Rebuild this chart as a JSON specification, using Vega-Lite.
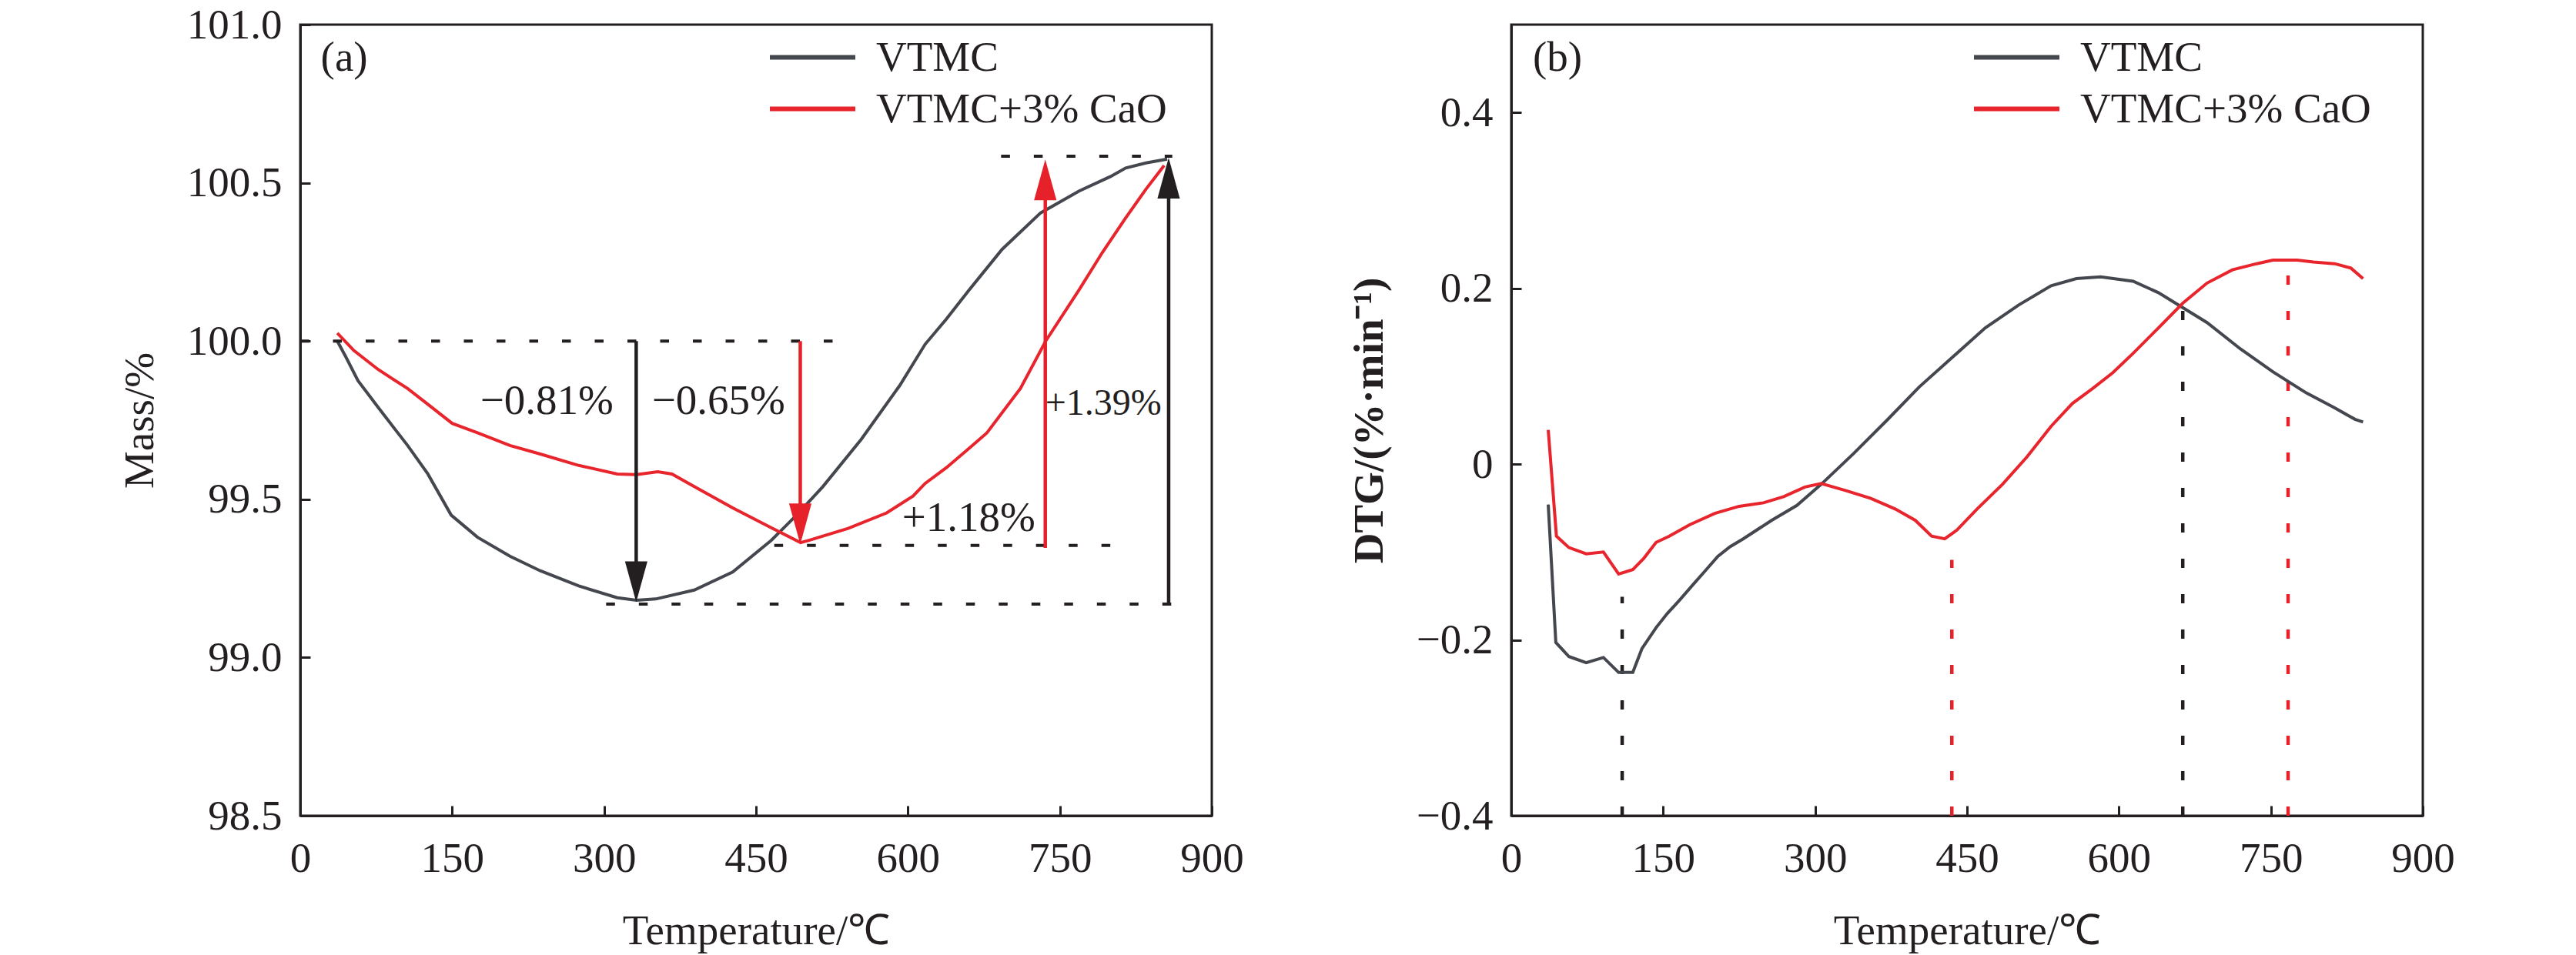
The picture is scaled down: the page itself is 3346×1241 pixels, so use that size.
{
  "$schema": "https://vega.github.io/schema/vega-lite/v6.json",
  "background": "white",
  "padding": {"left": 152, "top": 3, "right": 5, "bottom": 5},
  "datasets": {
    "tg": [
      {"x": 36.6, "y": 100.0, "s": "VTMC"},
      {"x": 45, "y": 99.95, "s": "VTMC"},
      {"x": 57, "y": 99.875, "s": "VTMC"},
      {"x": 77, "y": 99.79, "s": "VTMC"},
      {"x": 106, "y": 99.67, "s": "VTMC"},
      {"x": 126, "y": 99.58, "s": "VTMC"},
      {"x": 149, "y": 99.45, "s": "VTMC"},
      {"x": 175, "y": 99.38, "s": "VTMC"},
      {"x": 207, "y": 99.32, "s": "VTMC"},
      {"x": 237, "y": 99.274, "s": "VTMC"},
      {"x": 275, "y": 99.226, "s": "VTMC"},
      {"x": 313, "y": 99.189, "s": "VTMC"},
      {"x": 332, "y": 99.181, "s": "VTMC"},
      {"x": 351, "y": 99.185, "s": "VTMC"},
      {"x": 389, "y": 99.213, "s": "VTMC"},
      {"x": 427, "y": 99.27, "s": "VTMC"},
      {"x": 465, "y": 99.37, "s": "VTMC"},
      {"x": 490, "y": 99.45, "s": "VTMC"},
      {"x": 516, "y": 99.54, "s": "VTMC"},
      {"x": 554, "y": 99.69, "s": "VTMC"},
      {"x": 592, "y": 99.86, "s": "VTMC"},
      {"x": 617, "y": 99.99, "s": "VTMC"},
      {"x": 638, "y": 100.07, "s": "VTMC"},
      {"x": 660, "y": 100.16, "s": "VTMC"},
      {"x": 693, "y": 100.29, "s": "VTMC"},
      {"x": 731, "y": 100.405, "s": "VTMC"},
      {"x": 769, "y": 100.474, "s": "VTMC"},
      {"x": 800, "y": 100.52, "s": "VTMC"},
      {"x": 815, "y": 100.547, "s": "VTMC"},
      {"x": 835, "y": 100.563, "s": "VTMC"},
      {"x": 856, "y": 100.575, "s": "VTMC"},
      {"x": 36.6, "y": 100.025, "s": "VTMC+3% CaO"},
      {"x": 53, "y": 99.97, "s": "VTMC+3% CaO"},
      {"x": 77, "y": 99.91, "s": "VTMC+3% CaO"},
      {"x": 106, "y": 99.85, "s": "VTMC+3% CaO"},
      {"x": 126, "y": 99.8, "s": "VTMC+3% CaO"},
      {"x": 150, "y": 99.74, "s": "VTMC+3% CaO"},
      {"x": 175, "y": 99.71, "s": "VTMC+3% CaO"},
      {"x": 207, "y": 99.67, "s": "VTMC+3% CaO"},
      {"x": 237, "y": 99.643, "s": "VTMC+3% CaO"},
      {"x": 275, "y": 99.607, "s": "VTMC+3% CaO"},
      {"x": 313, "y": 99.58, "s": "VTMC+3% CaO"},
      {"x": 332, "y": 99.578, "s": "VTMC+3% CaO"},
      {"x": 353, "y": 99.587, "s": "VTMC+3% CaO"},
      {"x": 367, "y": 99.58, "s": "VTMC+3% CaO"},
      {"x": 389, "y": 99.54, "s": "VTMC+3% CaO"},
      {"x": 427, "y": 99.473, "s": "VTMC+3% CaO"},
      {"x": 465, "y": 99.41, "s": "VTMC+3% CaO"},
      {"x": 494, "y": 99.363, "s": "VTMC+3% CaO"},
      {"x": 503, "y": 99.371, "s": "VTMC+3% CaO"},
      {"x": 541, "y": 99.408, "s": "VTMC+3% CaO"},
      {"x": 579, "y": 99.457, "s": "VTMC+3% CaO"},
      {"x": 605, "y": 99.51, "s": "VTMC+3% CaO"},
      {"x": 617, "y": 99.55, "s": "VTMC+3% CaO"},
      {"x": 638, "y": 99.6, "s": "VTMC+3% CaO"},
      {"x": 660, "y": 99.66, "s": "VTMC+3% CaO"},
      {"x": 678, "y": 99.71, "s": "VTMC+3% CaO"},
      {"x": 711, "y": 99.85, "s": "VTMC+3% CaO"},
      {"x": 736, "y": 100.0, "s": "VTMC+3% CaO"},
      {"x": 769, "y": 100.162, "s": "VTMC+3% CaO"},
      {"x": 792, "y": 100.28, "s": "VTMC+3% CaO"},
      {"x": 815, "y": 100.389, "s": "VTMC+3% CaO"},
      {"x": 835, "y": 100.48, "s": "VTMC+3% CaO"},
      {"x": 853, "y": 100.555, "s": "VTMC+3% CaO"}
    ],
    "dtg": [
      {"x": 36.5, "y": -0.046, "s": "VTMC"},
      {"x": 44, "y": -0.203, "s": "VTMC"},
      {"x": 57, "y": -0.219, "s": "VTMC"},
      {"x": 74, "y": -0.226, "s": "VTMC"},
      {"x": 91, "y": -0.22, "s": "VTMC"},
      {"x": 106, "y": -0.237, "s": "VTMC"},
      {"x": 120, "y": -0.237, "s": "VTMC"},
      {"x": 129, "y": -0.21, "s": "VTMC"},
      {"x": 143, "y": -0.186, "s": "VTMC"},
      {"x": 154, "y": -0.17, "s": "VTMC"},
      {"x": 166, "y": -0.155, "s": "VTMC"},
      {"x": 178, "y": -0.139, "s": "VTMC"},
      {"x": 191, "y": -0.122, "s": "VTMC"},
      {"x": 204, "y": -0.105, "s": "VTMC"},
      {"x": 216, "y": -0.094, "s": "VTMC"},
      {"x": 229, "y": -0.085, "s": "VTMC"},
      {"x": 257, "y": -0.064, "s": "VTMC"},
      {"x": 282, "y": -0.047, "s": "VTMC"},
      {"x": 306, "y": -0.023, "s": "VTMC"},
      {"x": 338, "y": 0.012, "s": "VTMC"},
      {"x": 371, "y": 0.05, "s": "VTMC"},
      {"x": 403, "y": 0.088, "s": "VTMC"},
      {"x": 436, "y": 0.122, "s": "VTMC"},
      {"x": 468, "y": 0.155, "s": "VTMC"},
      {"x": 501, "y": 0.181, "s": "VTMC"},
      {"x": 533, "y": 0.203, "s": "VTMC"},
      {"x": 558, "y": 0.211, "s": "VTMC"},
      {"x": 582, "y": 0.213, "s": "VTMC"},
      {"x": 614, "y": 0.208, "s": "VTMC"},
      {"x": 639, "y": 0.195, "s": "VTMC"},
      {"x": 663, "y": 0.178, "s": "VTMC"},
      {"x": 687, "y": 0.161, "s": "VTMC"},
      {"x": 720, "y": 0.131, "s": "VTMC"},
      {"x": 752, "y": 0.105, "s": "VTMC"},
      {"x": 785, "y": 0.081, "s": "VTMC"},
      {"x": 813, "y": 0.064, "s": "VTMC"},
      {"x": 833, "y": 0.051, "s": "VTMC"},
      {"x": 841, "y": 0.048, "s": "VTMC"},
      {"x": 36.5, "y": 0.039, "s": "VTMC+3% CaO"},
      {"x": 44.6, "y": -0.082, "s": "VTMC+3% CaO"},
      {"x": 57, "y": -0.095, "s": "VTMC+3% CaO"},
      {"x": 74, "y": -0.102, "s": "VTMC+3% CaO"},
      {"x": 91, "y": -0.1, "s": "VTMC+3% CaO"},
      {"x": 106, "y": -0.125, "s": "VTMC+3% CaO"},
      {"x": 120, "y": -0.12, "s": "VTMC+3% CaO"},
      {"x": 131, "y": -0.107, "s": "VTMC+3% CaO"},
      {"x": 143, "y": -0.089, "s": "VTMC+3% CaO"},
      {"x": 156, "y": -0.082, "s": "VTMC+3% CaO"},
      {"x": 176, "y": -0.069, "s": "VTMC+3% CaO"},
      {"x": 201, "y": -0.056, "s": "VTMC+3% CaO"},
      {"x": 225, "y": -0.048, "s": "VTMC+3% CaO"},
      {"x": 249, "y": -0.044, "s": "VTMC+3% CaO"},
      {"x": 269, "y": -0.037, "s": "VTMC+3% CaO"},
      {"x": 290, "y": -0.026, "s": "VTMC+3% CaO"},
      {"x": 306, "y": -0.022, "s": "VTMC+3% CaO"},
      {"x": 330, "y": -0.03, "s": "VTMC+3% CaO"},
      {"x": 355, "y": -0.039, "s": "VTMC+3% CaO"},
      {"x": 379, "y": -0.051, "s": "VTMC+3% CaO"},
      {"x": 399, "y": -0.064, "s": "VTMC+3% CaO"},
      {"x": 415, "y": -0.082, "s": "VTMC+3% CaO"},
      {"x": 428, "y": -0.085, "s": "VTMC+3% CaO"},
      {"x": 440, "y": -0.075, "s": "VTMC+3% CaO"},
      {"x": 460, "y": -0.051, "s": "VTMC+3% CaO"},
      {"x": 485, "y": -0.023, "s": "VTMC+3% CaO"},
      {"x": 509, "y": 0.008, "s": "VTMC+3% CaO"},
      {"x": 533, "y": 0.043, "s": "VTMC+3% CaO"},
      {"x": 554, "y": 0.069, "s": "VTMC+3% CaO"},
      {"x": 574, "y": 0.086, "s": "VTMC+3% CaO"},
      {"x": 594, "y": 0.104, "s": "VTMC+3% CaO"},
      {"x": 614, "y": 0.126, "s": "VTMC+3% CaO"},
      {"x": 639, "y": 0.155, "s": "VTMC+3% CaO"},
      {"x": 663, "y": 0.183, "s": "VTMC+3% CaO"},
      {"x": 687, "y": 0.206, "s": "VTMC+3% CaO"},
      {"x": 712, "y": 0.221, "s": "VTMC+3% CaO"},
      {"x": 736, "y": 0.228, "s": "VTMC+3% CaO"},
      {"x": 752, "y": 0.232, "s": "VTMC+3% CaO"},
      {"x": 776, "y": 0.232, "s": "VTMC+3% CaO"},
      {"x": 792, "y": 0.23, "s": "VTMC+3% CaO"},
      {"x": 813, "y": 0.228, "s": "VTMC+3% CaO"},
      {"x": 829, "y": 0.223, "s": "VTMC+3% CaO"},
      {"x": 841, "y": 0.211, "s": "VTMC+3% CaO"}
    ],
    "levelsA": [
      {"x": 0, "x2": 542, "y": 100.0},
      {"x": 302, "x2": 860, "y": 99.169},
      {"x": 468, "x2": 800, "y": 99.354},
      {"x": 692, "x2": 861, "y": 100.584}
    ],
    "shaftsA": [
      {"x": 331.7, "y": 100.0, "y2": 99.2, "s": "VTMC"},
      {"x": 493.7, "y": 100.0, "y2": 99.38, "s": "VTMC+3% CaO"},
      {"x": 735.6, "y": 99.346, "y2": 100.55, "s": "VTMC+3% CaO"},
      {"x": 857.4, "y": 99.169, "y2": 100.55, "s": "VTMC"}
    ],
    "headsA": [
      {"x": 331.7, "y": 99.175, "dir": "down", "s": "VTMC"},
      {"x": 493.7, "y": 99.358, "dir": "down", "s": "VTMC+3% CaO"},
      {"x": 735.6, "y": 100.574, "dir": "up", "s": "VTMC+3% CaO"},
      {"x": 857.4, "y": 100.579, "dir": "up", "s": "VTMC"}
    ],
    "labelsA": [
      {"x": 43.4, "y": 100.895, "t": "(a)"},
      {"x": 243.5, "y": 99.81, "t": "−0.81%"},
      {"x": 413, "y": 99.81, "t": "−0.65%"},
      {"x": 660, "y": 99.44, "t": "+1.18%"}
    ],
    "labelsA2": [
      {"x": 793, "y": 99.8, "t": "+1.39%"}
    ],
    "peaksB": [
      {"x": 109.5, "y": -0.4, "y2": -0.151, "s": "VTMC"},
      {"x": 435, "y": -0.4, "y2": -0.109, "s": "VTMC+3% CaO"},
      {"x": 663, "y": -0.4, "y2": 0.182, "s": "VTMC"},
      {"x": 767, "y": -0.4, "y2": 0.22, "s": "VTMC+3% CaO"}
    ],
    "labelsB": [
      {"x": 45.6, "y": 0.462, "t": "(b)"}
    ]
  },
  "hconcat": [
    {
      "width": 1184,
      "height": 1028,
      "encoding": {
        "x": {"field": "x", "type": "quantitative", "title": "Temperature/℃",
              "scale": {"domain": [0, 900], "nice": false, "zero": false},
              "axis": {"values": [0, 150, 300, 450, 600, 750, 900]}},
        "y": {"field": "y", "type": "quantitative", "title": "Mass/%",
              "scale": {"domain": [98.5, 101], "nice": false, "zero": false},
              "axis": {"values": [98.5, 99, 99.5, 100, 100.5, 101], "format": ".1f"}}
      },
      "layer": [
        {
          "data": {"name": "tg"},
          "mark": {"type": "line", "strokeWidth": 4},
          "encoding": {
            "color": {"field": "s", "type": "nominal",
                      "scale": {"domain": ["VTMC", "VTMC+3% CaO"], "range": ["#45474f", "#e8242c"]},
                      "legend": {"title": null, "orient": "none", "legendX": 601, "legendY": 15,
                                 "symbolType": "M-1,0H5", "symbolSize": 1369, "symbolStrokeWidth": 6,
                                 "labelOffset": 92, "rowPadding": 11, "padding": 0,
                                 "labelFont": "Liberation Serif", "labelFontSize": 55,
                                 "labelColor": "#231f20", "labelLimit": 0}}
          }
        },
        {
          "data": {"name": "levelsA"},
          "mark": {"type": "rule", "strokeDash": [11.5, 31], "strokeWidth": 4, "color": "#231f20"},
          "encoding": {
            "x2": {"field": "x2"}
          }
        },
        {
          "data": {"name": "shaftsA"},
          "mark": {"type": "rule", "strokeWidth": 4.5},
          "encoding": {
            "y2": {"field": "y2"},
            "stroke": {"field": "s", "type": "nominal",
                       "scale": {"domain": ["VTMC", "VTMC+3% CaO"], "range": ["#231f20", "#e6212a"]},
                       "legend": null}
          }
        },
        {
          "data": {"name": "headsA"},
          "mark": {"type": "point", "filled": true, "opacity": 1, "size": 2809, "strokeWidth": 0},
          "encoding": {
            "fill": {"field": "s", "type": "nominal",
                     "scale": {"domain": ["VTMC", "VTMC+3% CaO"], "range": ["#231f20", "#e6212a"]},
                     "legend": null},
            "shape": {"field": "dir", "type": "nominal",
                      "scale": {"domain": ["down", "up"], "range": ["M-0.55,-2L0.55,-2L0,0Z", "M-0.55,2L0.55,2L0,0Z"]},
                      "legend": null}
          }
        },
        {
          "data": {"name": "labelsA"},
          "mark": {"type": "text", "font": "Liberation Serif", "fontSize": 55, "color": "#231f20", "align": "center", "baseline": "middle"},
          "encoding": {
            "text": {"field": "t"}
          }
        },
        {
          "data": {"name": "labelsA2"},
          "mark": {"type": "text", "font": "Liberation Serif", "fontSize": 48, "color": "#231f20", "align": "center", "baseline": "middle"},
          "encoding": {
            "text": {"field": "t"}
          }
        }
      ]
    },
    {
      "width": 1184,
      "height": 1028,
      "encoding": {
        "x": {"field": "x", "type": "quantitative", "title": "Temperature/℃",
              "scale": {"domain": [0, 900], "nice": false, "zero": false},
              "axis": {"values": [0, 150, 300, 450, 600, 750, 900]}},
        "y": {"field": "y", "type": "quantitative", "title": "DTG/(%·min⁻¹)",
              "scale": {"domain": [-0.4, 0.5], "nice": false, "zero": false},
              "axis": {"values": [-0.4, -0.2, 0, 0.2, 0.4], "format": ".1~f", "titleFontWeight": "bold"}}
      },
      "layer": [
        {
          "data": {"name": "peaksB"},
          "mark": {"type": "rule", "strokeDash": [12, 34], "strokeWidth": 4.5},
          "encoding": {
            "y2": {"field": "y2"},
            "stroke": {"field": "s", "type": "nominal",
                       "scale": {"domain": ["VTMC", "VTMC+3% CaO"], "range": ["#231f20", "#e6212a"]},
                       "legend": null}
          }
        },
        {
          "data": {"name": "dtg"},
          "mark": {"type": "line", "strokeWidth": 4},
          "encoding": {
            "color": {"field": "s", "type": "nominal",
                      "scale": {"domain": ["VTMC", "VTMC+3% CaO"], "range": ["#45474f", "#e8242c"]},
                      "legend": {"title": null, "orient": "none", "legendX": 592, "legendY": 15,
                                 "symbolType": "M-1,0H5", "symbolSize": 1369, "symbolStrokeWidth": 6,
                                 "labelOffset": 92, "rowPadding": 11, "padding": 0,
                                 "labelFont": "Liberation Serif", "labelFontSize": 55,
                                 "labelColor": "#231f20", "labelLimit": 0}}
          }
        },
        {
          "data": {"name": "labelsB"},
          "mark": {"type": "text", "font": "Liberation Serif", "fontSize": 55, "color": "#231f20", "align": "center", "baseline": "middle"},
          "encoding": {
            "text": {"field": "t"}
          }
        }
      ]
    }
  ],
  "spacing": 132,
  "resolve": {"scale": {"color": "independent", "y": "independent"}, "legend": {"color": "independent"}},
  "config": {
    "font": "Liberation Serif",
    "view": {"stroke": "#231f20", "strokeWidth": 3},
    "axis": {
      "grid": false,
      "domainColor": "#231f20",
      "domainWidth": 3,
      "tickColor": "#231f20",
      "tickWidth": 3,
      "tickSize": -13,
      "labelFont": "Liberation Serif",
      "labelFontSize": 55,
      "labelColor": "#231f20",
      "labelFlush": false,
      "labelOverlap": false,
      "labelBound": false,
      "titleFont": "Liberation Serif",
      "titleFontSize": 55,
      "titleFontWeight": "normal",
      "titleColor": "#231f20"
    },
    "axisX": {"labelPadding": 42, "titlePadding": 40},
    "axisY": {"labelPadding": 37, "titlePadding": 32}
  }
}
